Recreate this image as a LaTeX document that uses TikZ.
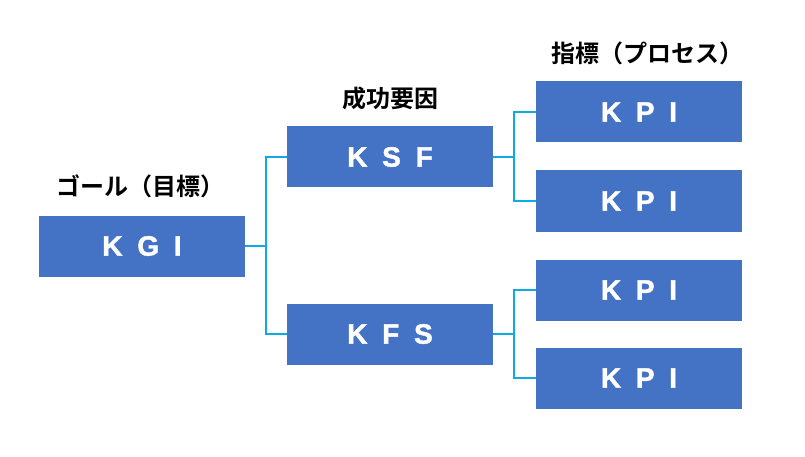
\documentclass[tikz,border=0pt]{standalone}
\usepackage{fontspec}
\usepackage{xcolor}
\usetikzlibrary{positioning}
\setmainfont{Liberation Sans}
\newfontfamily\boxfont{Liberation Sans Bold}[WordSpace=1.9,FakeBold=1.5]
\newfontfamily\jpfont{Noto Sans CJK JP Bold}
\definecolor{boxblue}{HTML}{4472C4}
\definecolor{linkblue}{RGB}{15,170,230}
\begin{document}
\begin{tikzpicture}[x=1pt,y=-1pt,
    box/.style={fill=boxblue,minimum width=206pt,minimum height=61pt,inner sep=0pt,text=white,font=\boxfont\fontsize{28}{28}\selectfont},
    head/.style={inner sep=0pt,font=\jpfont\fontsize{24}{24}\selectfont},
    link/.style={draw=linkblue,line width=2.2pt}]
				\useasboundingbox (0,0) rectangle (805,457);
				\node at (142,246) [box] (kgi) {K G I};
				\node at (390,157) [box] (ksf) {K S F};
				\node at (390,334) [box] (kfs) {K F S};
				\node at (639,112) [box] (kpi1) {K P I};
				\node at (639,201) [box] (kpi2) {K P I};
				\node at (639,290) [box] (kpi3) {K P I};
				\node at (639,378) [box] (kpi4) {K P I};
				\node at (140,186) [head] (goal) {ゴール（目標）};
				\node at (390,98) [head] (factor) {成功要因};
				\node at (647,53) [head] (metric) {指標（プロセス）};
				\draw[link] (kgi.east) -- ++(21,0) |- (ksf.west);
				\draw[link] (kgi.east) -- ++(21,0) |- (kfs.west);
				\draw[link] (ksf.east) -- ++(21,0) |- (kpi1.west);
				\draw[link] (ksf.east) -- ++(21,0) |- (kpi2.west);
				\draw[link] (kfs.east) -- ++(21,0) |- (kpi3.west);
				\draw[link] (kfs.east) -- ++(21,0) |- (kpi4.west);
			\end{tikzpicture}
\end{document}
